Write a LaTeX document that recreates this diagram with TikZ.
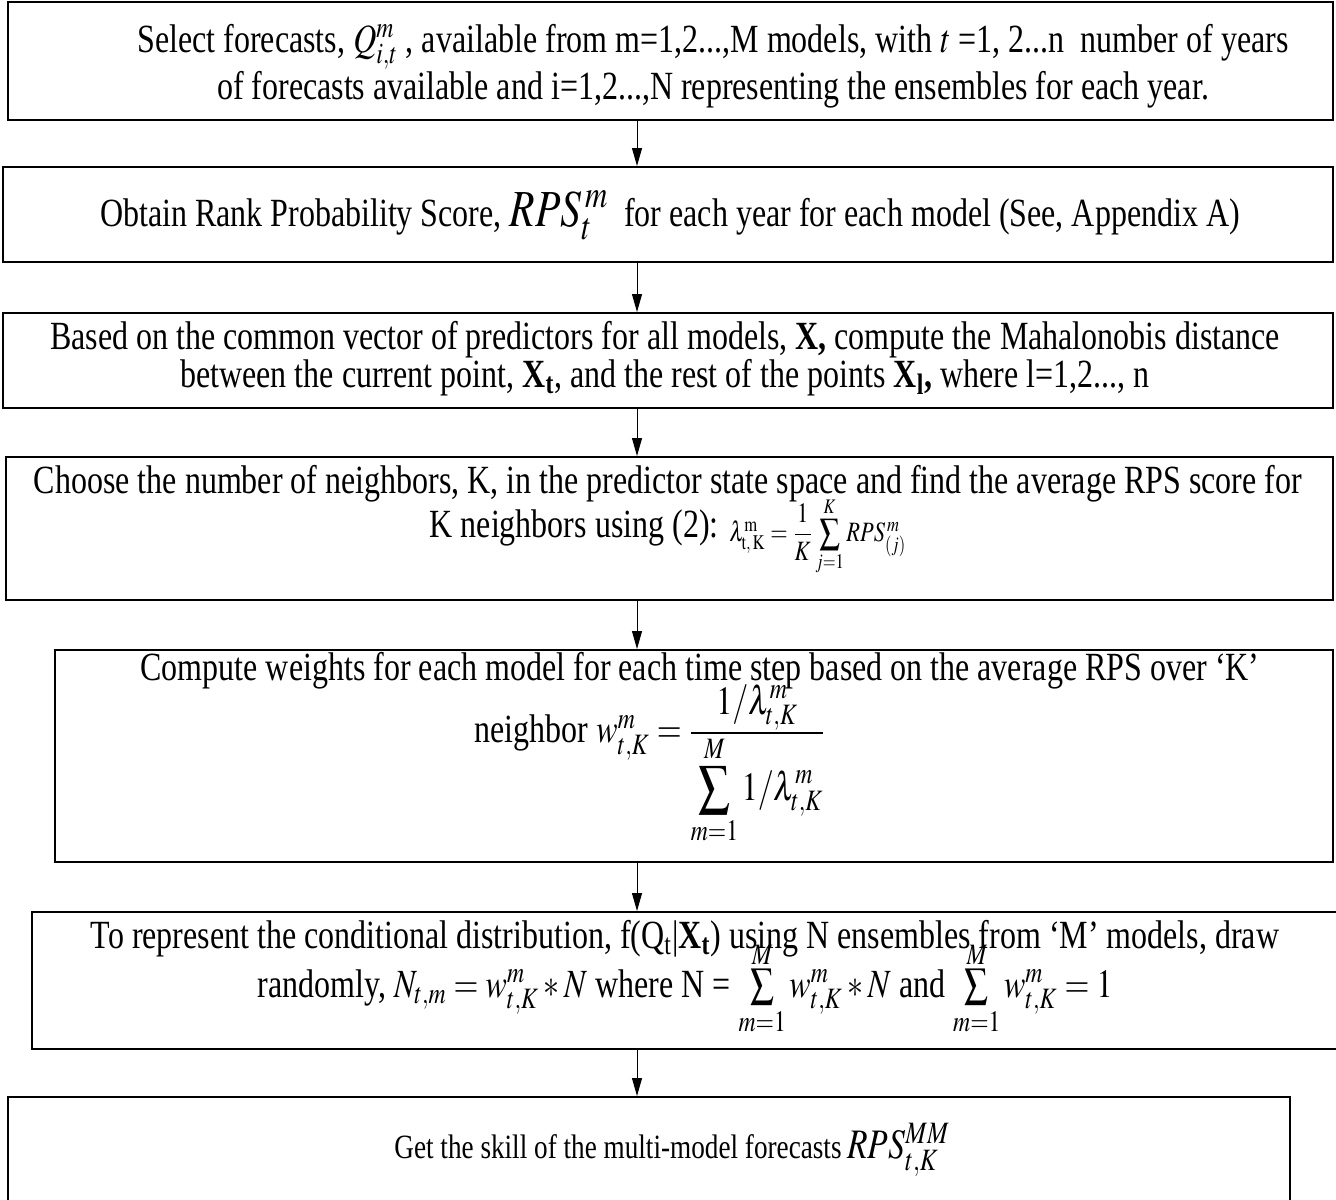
\documentclass[tikz,border=0pt]{standalone}
\usepackage{amsmath}
\usepackage{mathptmx}
\usepackage{graphicx}
\usepackage{fontspec}
\setmainfont[FakeStretch=0.8]{Liberation Serif}
\usetikzlibrary{arrows.meta,positioning}

% squeezed math at a given size
\newcommand{\sqz}[2]{{\fontsize{#1}{#1}\selectfont\scalebox{0.8}[1]{#2}}}
% larger summation sign with limits
\newcommand{\bigsig}[1]{\mathop{\vcenter{\hbox{\scalebox{#1}{$\sum$}}}}\limits}
\newcommand{\lowM}{\raisebox{-5pt}{$\scriptstyle M$}}

\tikzset{
  stepbox/.style={draw,line width=1pt,inner sep=0pt},
  txt/.style={align=center,inner sep=0pt,font=\fontsize{20}{22}\selectfont},
  flow/.style={-{Triangle[length=9pt,width=5pt]},line width=0.5pt}
}

\begin{document}
\begin{tikzpicture}[x=0.5pt,y=-0.5pt]
	\useasboundingbox (0,0) rectangle (1336,1199);
	% boxes
	\node[stepbox,minimum width=662.5pt,minimum height=59pt] (b1) at (670.5,61) {};
	\node[stepbox,minimum width=665pt,minimum height=47.5pt] (b2) at (668,214.5) {};
	\node[stepbox,minimum width=665pt,minimum height=47.5pt] (b3) at (668,360.5) {};
	\node[stepbox,minimum width=663.5pt,minimum height=71.5pt] (b4) at (669.5,528.5) {};
	\node[stepbox,minimum width=639pt,minimum height=106pt] (b5) at (694,756) {};
	\node[stepbox,minimum width=654pt,minimum height=68.5pt] (b6) at (686,980.5) {};
	\node[stepbox,minimum width=641pt,minimum height=56.5pt] (b7) at (649,1153.5) {};
	% texts
	\node[txt] (t1) at (713,66) {Select forecasts, \sqz{20}{$Q_{i,t}^{m}$} , available from m=1,2...,M models, with \sqz{20}{$t$} =1, 2...n\ \ number of years\\
		of forecasts available and i=1,2...,N representing the ensembles for each year.};
	\node[txt] (t2) at (670,215) {Obtain Rank Probability Score, \sqz{26}{$RPS_t^{\,m}$}\ \ for each year for each model (See, Appendix A)};
	\node[txt,font=\fontsize{20}{19}\selectfont] (t3) at (665,359) {Based on the common vector of predictors for all models, \textbf{X,} compute the Mahalonobis distance\\
		between the current point, \textbf{X\textsubscript{t}}, and the rest of the points \textbf{X\textsubscript{l},} where l=1,2..., n};
	\node[txt] (t4) at (668,506) {Choose the number of neighbors, K, in the predictor state space and find the average RPS score for\\
		K neighbors using (2): \smash{\raisebox{-2pt}{\sqz{14}{$\lambda^{\mathrm{m}}_{\mathrm{t,\,K}}=\dfrac{1}{K}\bigsig{1.3}_{j=1}^{K}RPS^{\,m}_{(j)}$}}}};
	\node[txt] (t5) at (700,702) {Compute weights for each model for each time step based on the average RPS over ‘K’\\[9pt]
		neighbor \smash{\sqz{20}{$w^{m}_{t,K}=\frac{\displaystyle 1/\lambda^{m}_{t,K}}{\displaystyle\bigsig{1.4}_{m=1}^{M}1/\lambda^{m}_{t,K}}$}}\hspace*{50pt}\mbox{}};
	\node[txt,font=\fontsize{20}{24.5}\selectfont] (t6) at (685,967) {To represent the conditional distribution, f(Q\textsubscript{t}|\textbf{X\textsubscript{t}}) using N ensembles from ‘M’ models, draw\\
		randomly, \sqz{20}{$N_{t,m}=w^{m}_{t,K}*N$} where N = \smash{\sqz{20}{$\bigsig{1.05}_{m=1}^{\lowM}w^{m}_{t,K}*N$}} and \smash{\sqz{20}{$\bigsig{1.05}_{m=1}^{\lowM}w^{m}_{t,K}=1$}}};
	\node[txt,font=\fontsize{17}{22}\selectfont] (t7) at (672,1150) {Get the skill of the multi-model forecasts\,\sqz{21}{$RPS^{MM}_{t,K}$}};
	% arrows
	\coordinate (ax) at (637,0);
	\draw[flow] (b1.south -| ax) -- (b2.north -| ax);
	\draw[flow] (b2.south -| ax) -- (b3.north -| ax);
	\draw[flow] (b3.south -| ax) -- (b4.north -| ax);
	\draw[flow] (b4.south -| ax) -- (b5.north -| ax);
	\draw[flow] (b5.south -| ax) -- (b6.north -| ax);
	\draw[flow] (b6.south -| ax) -- (b7.north -| ax);
\end{tikzpicture}
\end{document}
